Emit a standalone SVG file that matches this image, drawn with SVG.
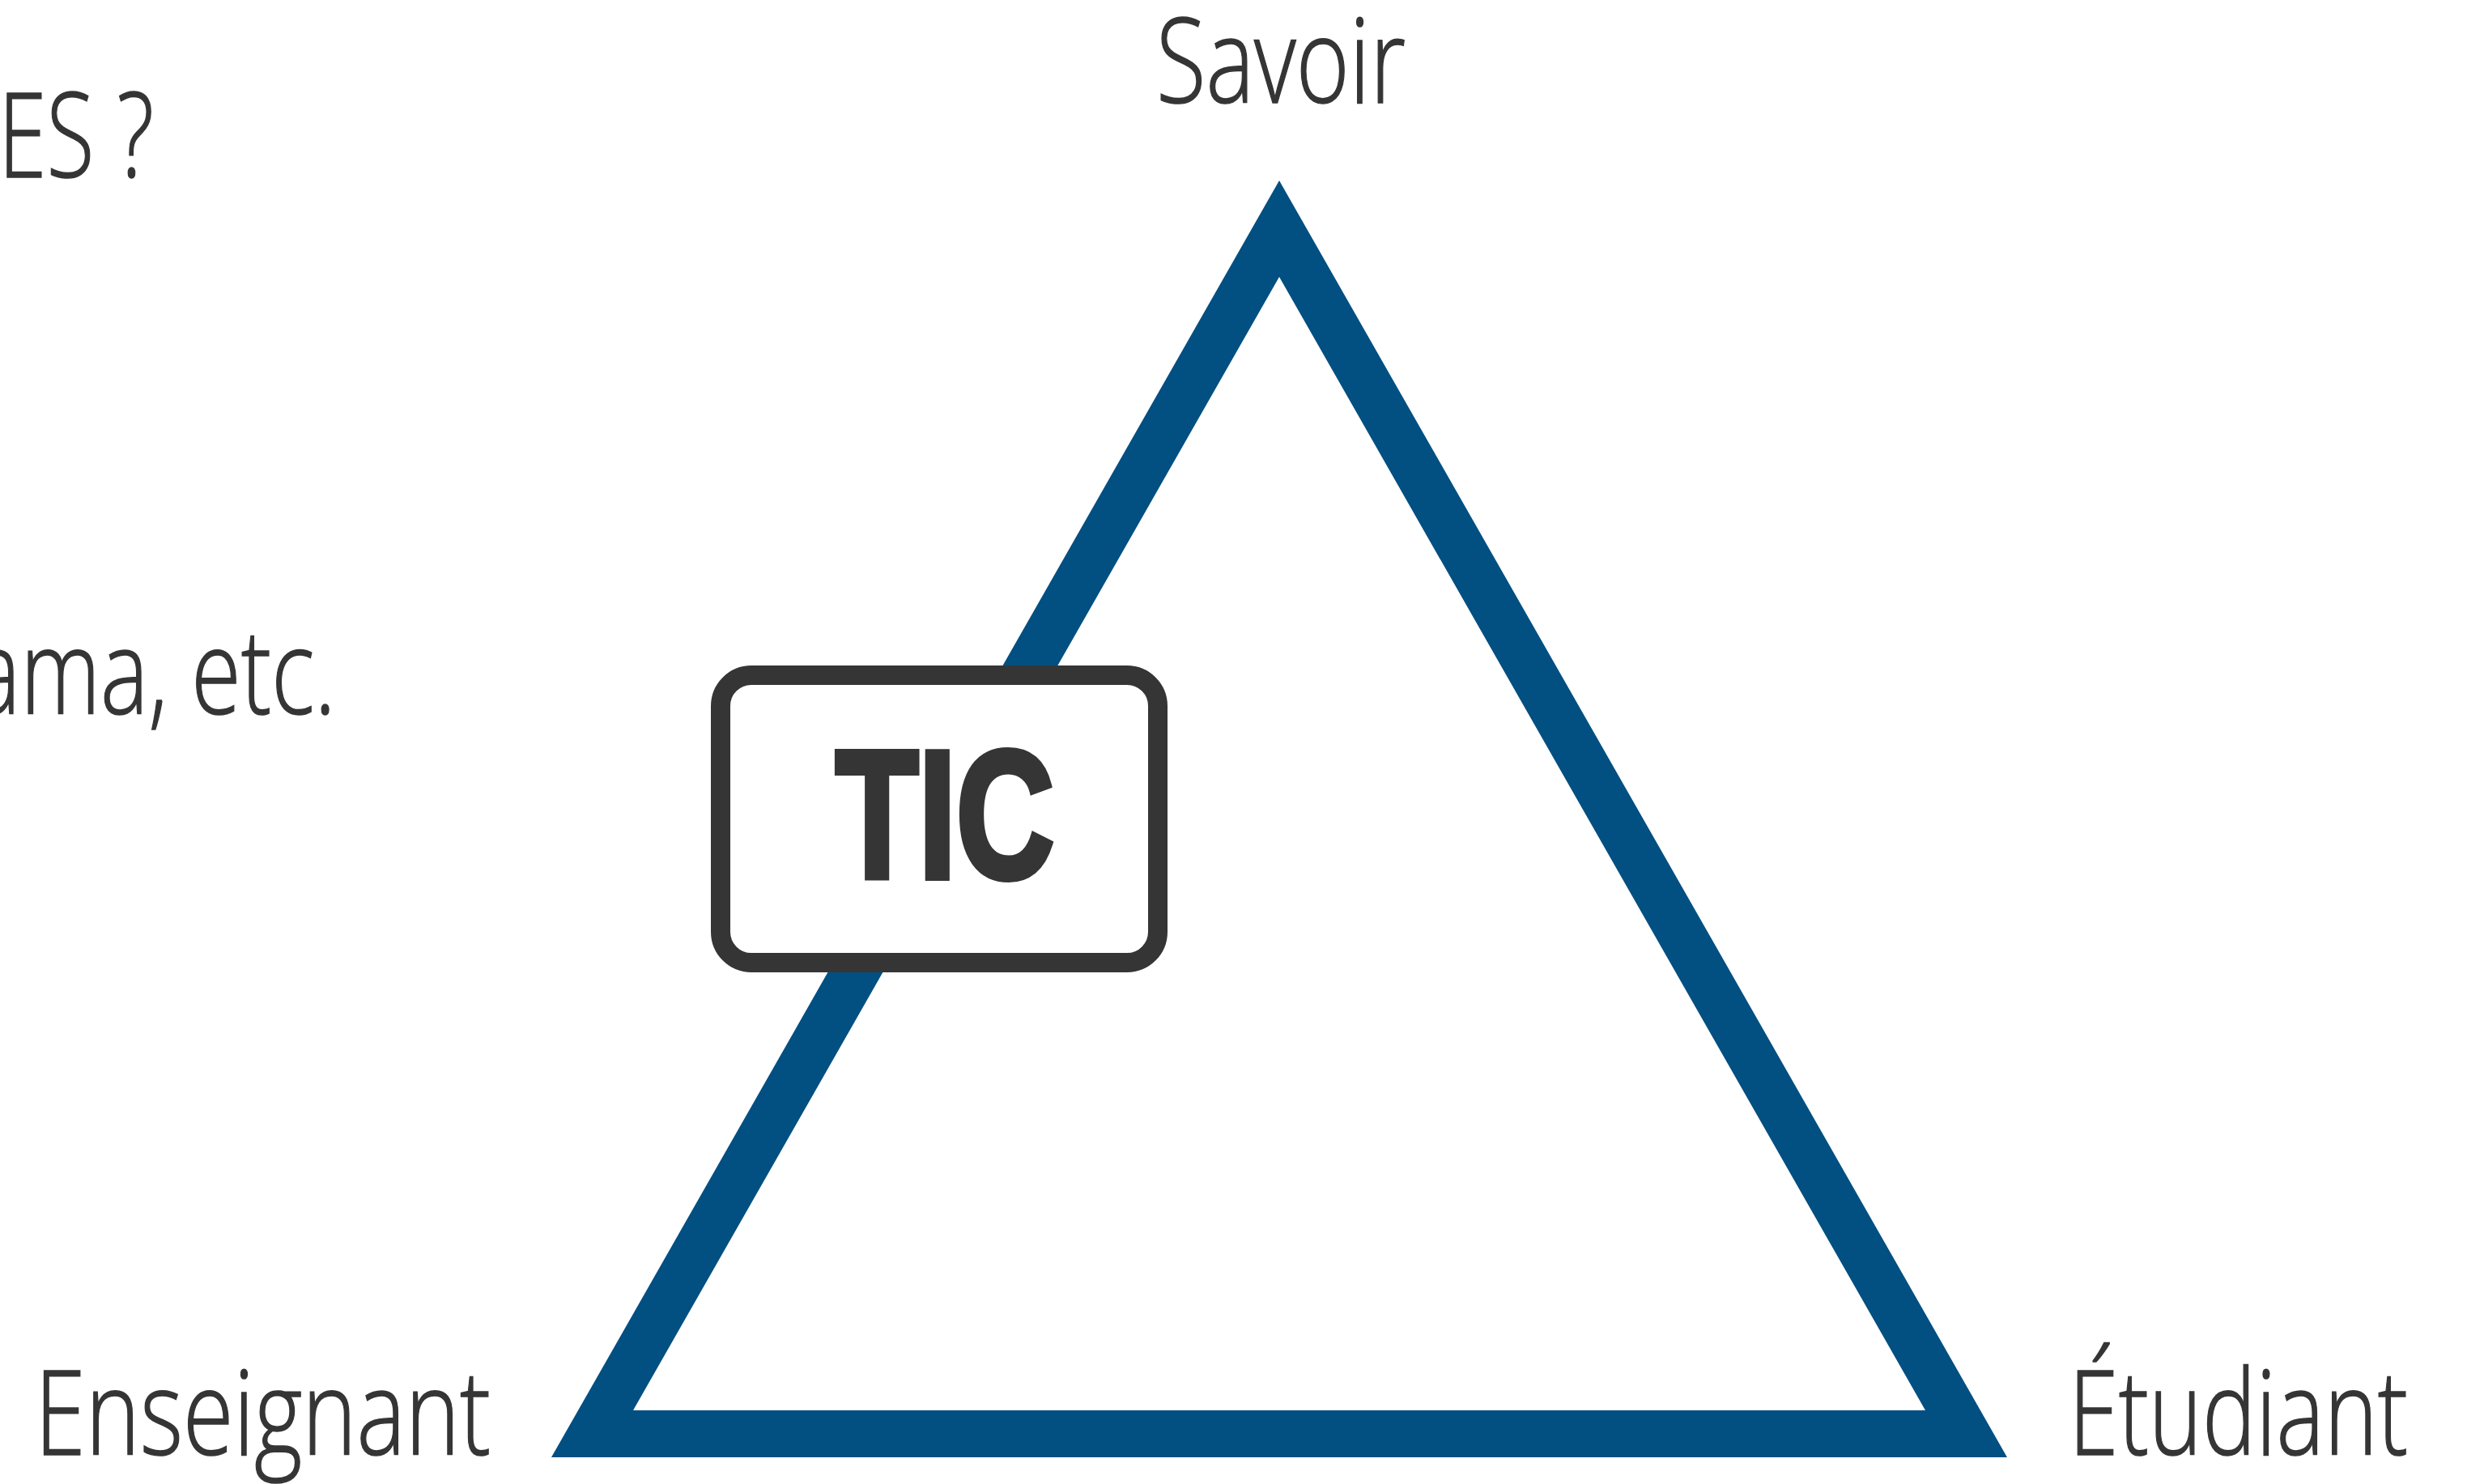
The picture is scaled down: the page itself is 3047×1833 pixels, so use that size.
<svg xmlns="http://www.w3.org/2000/svg" width="3047" height="1833" viewBox="0 0 3047 1833">
<style>
.lbl{font-family:"Open Sans","Liberation Sans",sans-serif;font-weight:300;font-size:146px;fill:#353535;stroke:#353535;stroke-width:1.5}
.tic{font-family:"Liberation Sans",sans-serif;font-weight:bold;font-size:224px;fill:#353535;stroke:#353535;stroke-width:8;stroke-linejoin:miter}
</style>
<rect width="3047" height="1833" fill="#ffffff"/>
<g id="side-texts">
<text class="lbl" x="190" y="219" text-anchor="end" textLength="192" lengthAdjust="spacingAndGlyphs">ES ?</text>
<text class="lbl" x="415" y="882" text-anchor="end" textLength="449" lengthAdjust="spacingAndGlyphs">ama, etc.</text>
</g>
<g id="connectors">
<path d="M1580 223 L681 1800 L2479 1800 Z M1580 342 L2378 1742 L782 1742 Z" fill="#024f82" fill-rule="evenodd"/>
</g>
<g id="node-savoir"><text class="lbl" x="1428" y="127" textLength="308" lengthAdjust="spacingAndGlyphs">Savoir</text></g>
<g id="node-enseignant"><text class="lbl" x="43" y="1797" textLength="563" lengthAdjust="spacingAndGlyphs">Enseignant</text></g>
<g id="node-etudiant"><text class="lbl" x="2555" y="1797" textLength="419" lengthAdjust="spacingAndGlyphs">Étudiant</text></g>
<g id="node-tic">
<rect x="890" y="834" width="540" height="355" rx="38" ry="38" fill="#ffffff" stroke="#353535" stroke-width="24"/>
<text class="tic" x="1032" y="1084" textLength="270" lengthAdjust="spacingAndGlyphs">TIC</text>
</g>
</svg>
